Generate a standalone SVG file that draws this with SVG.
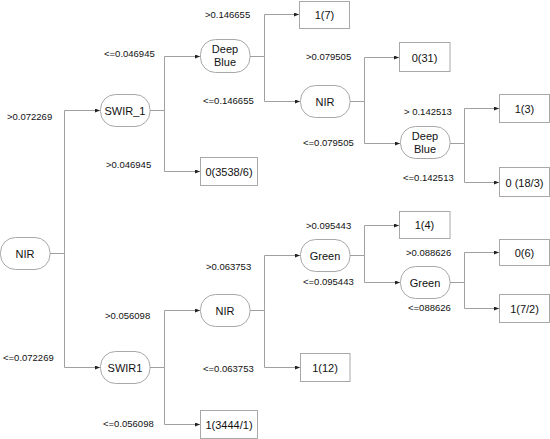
<svg xmlns="http://www.w3.org/2000/svg" width="550" height="439" viewBox="0 0 550 439">
<defs>
<marker id="arr" markerUnits="userSpaceOnUse" markerWidth="5" markerHeight="4" refX="5" refY="2" orient="auto">
<path d="M0,0 L5,2 L0,4 Z" fill="#222"/>
</marker>
<style>
.n{fill:#fff;stroke:#a8a8a8;stroke-width:1}
.t{font-family:"Liberation Sans",Arial,sans-serif;font-size:11px;fill:#111;text-anchor:middle}
.l{font-family:"Liberation Sans",Arial,sans-serif;font-size:9.5px;fill:#111}
.c{fill:none;stroke:#a0a0a0;stroke-width:1}
.a{marker-end:url(#arr)}
</style>
</defs>
<rect width="550" height="439" fill="#fff"/>
<g id="connectors">
<path class="c" d="M50,253.5H64.5V110.5H100" marker-end="url(#arr)"/>
<path class="c" d="M64.5,253.5V367.5H100" marker-end="url(#arr)"/>
<path class="c" d="M150,110.5H164.5V56.5H200" marker-end="url(#arr)"/>
<path class="c" d="M164.5,110.5V171.5H200" marker-end="url(#arr)"/>
<path class="c" d="M250,56.5H264.5V14.5H299" marker-end="url(#arr)"/>
<path class="c" d="M264.5,56.5V101.5H300" marker-end="url(#arr)"/>
<path class="c" d="M350,101.5H364.5V57.5H399" marker-end="url(#arr)"/>
<path class="c" d="M364.5,101.5V143.5H400" marker-end="url(#arr)"/>
<path class="c" d="M450,143.5H464.5V108.5H499" marker-end="url(#arr)"/>
<path class="c" d="M464.5,143.5V182.5H499" marker-end="url(#arr)"/>
<path class="c" d="M150,367.5H164.5V310.5H200" marker-end="url(#arr)"/>
<path class="c" d="M164.5,367.5V424.5H200" marker-end="url(#arr)"/>
<path class="c" d="M250,310.5H264.5V255.5H300" marker-end="url(#arr)"/>
<path class="c" d="M264.5,310.5V367.5H300" marker-end="url(#arr)"/>
<path class="c" d="M350,255.5H364.5V225.5H399" marker-end="url(#arr)"/>
<path class="c" d="M364.5,255.5V282.5H400" marker-end="url(#arr)"/>
<path class="c" d="M450,282.5H464.5V252.5H499" marker-end="url(#arr)"/>
<path class="c" d="M464.5,282.5V308.5H499" marker-end="url(#arr)"/>
</g>
<g id="labels">
<text class="l" x="7" y="120">&gt;0.072269</text>
<text class="l" x="3" y="361">&lt;=0.072269</text>
<text class="l" x="104" y="57">&lt;=0.046945</text>
<text class="l" x="106" y="168">&gt;0.046945</text>
<text class="l" x="205" y="18">&gt;0.146655</text>
<text class="l" x="203" y="104">&lt;=0.146655</text>
<text class="l" x="306" y="60">&gt;0.079505</text>
<text class="l" x="303" y="146">&lt;=0.079505</text>
<text class="l" x="404" y="115">&gt; 0.142513</text>
<text class="l" x="403" y="181">&lt;=0.142513</text>
<text class="l" x="105" y="319">&gt;0.056098</text>
<text class="l" x="103" y="427">&lt;=0.056098</text>
<text class="l" x="206" y="270">&gt;0.063753</text>
<text class="l" x="203" y="372">&lt;=0.063753</text>
<text class="l" x="306" y="229">&gt;0.095443</text>
<text class="l" x="303" y="285">&lt;=0.095443</text>
<text class="l" x="406" y="256">&gt;0.088626</text>
<text class="l" x="408" y="311">&lt;=088626</text>
</g>
<g id="n-root"><rect class="n" x="0.5" y="237.5" width="49.5" height="32" rx="15"/><text class="t" x="25" y="257.5">NIR</text></g>
<g id="n-swir_1"><rect class="n" x="100.5" y="94.5" width="49.5" height="32" rx="15"/><text class="t" x="125" y="114.5">SWIR_1</text></g>
<g id="n-swir1"><rect class="n" x="100.5" y="351.5" width="49.5" height="32" rx="15"/><text class="t" x="125" y="371.5">SWIR1</text></g>
<g id="n-deepblue1"><rect class="n" x="200.5" y="39.5" width="49.5" height="33" rx="15"/><text class="t" x="225" y="53">Deep</text><text class="t" x="225" y="66">Blue</text></g>
<g id="n-leaf-3538"><rect class="n" x="200.5" y="157.5" width="57" height="28"/><text class="t" x="229" y="175.5">0(3538/6)</text></g>
<g id="n-leaf-7"><rect class="n" x="299.5" y="1.5" width="50" height="27"/><text class="t" x="324.5" y="18.5">1(7)</text></g>
<g id="n-nir2"><rect class="n" x="300.5" y="85.5" width="49.5" height="32" rx="15"/><text class="t" x="325" y="105.5">NIR</text></g>
<g id="n-leaf-31"><rect class="n" x="399.5" y="42.5" width="50.5" height="29"/><text class="t" x="424.5" y="61.5">0(31)</text></g>
<g id="n-deepblue2"><rect class="n" x="400.5" y="126.5" width="49.5" height="32" rx="15"/><text class="t" x="425" y="140">Deep</text><text class="t" x="425" y="153">Blue</text></g>
<g id="n-leaf-3"><rect class="n" x="499.5" y="94.5" width="50" height="28"/><text class="t" x="524.5" y="112.5">1(3)</text></g>
<g id="n-leaf-18"><rect class="n" x="499.5" y="167.5" width="50" height="29"/><text class="t" x="524.5" y="186.5">0 (18/3)</text></g>
<g id="n-nir3"><rect class="n" x="200.5" y="294.5" width="49.5" height="32" rx="15"/><text class="t" x="225" y="314.5">NIR</text></g>
<g id="n-leaf-3444"><rect class="n" x="200.5" y="410.5" width="57" height="28"/><text class="t" x="229" y="428.5">1(3444/1)</text></g>
<g id="n-green1"><rect class="n" x="300.5" y="239.5" width="49.5" height="32" rx="15"/><text class="t" x="325" y="259.5">Green</text></g>
<g id="n-leaf-12"><rect class="n" x="300.5" y="353.5" width="49.5" height="28"/><text class="t" x="325" y="371.5">1(12)</text></g>
<g id="n-leaf-4"><rect class="n" x="399.5" y="211.5" width="50.5" height="27"/><text class="t" x="424.5" y="229">1(4)</text></g>
<g id="n-green2"><rect class="n" x="400.5" y="266.5" width="49.5" height="32" rx="15"/><text class="t" x="425" y="286.5">Green</text></g>
<g id="n-leaf-6"><rect class="n" x="499.5" y="239.5" width="50" height="26"/><text class="t" x="524.5" y="256.5">0(6)</text></g>
<g id="n-leaf-72"><rect class="n" x="499.5" y="294.5" width="50" height="28"/><text class="t" x="524.5" y="312.5">1(7/2)</text></g>
</svg>
